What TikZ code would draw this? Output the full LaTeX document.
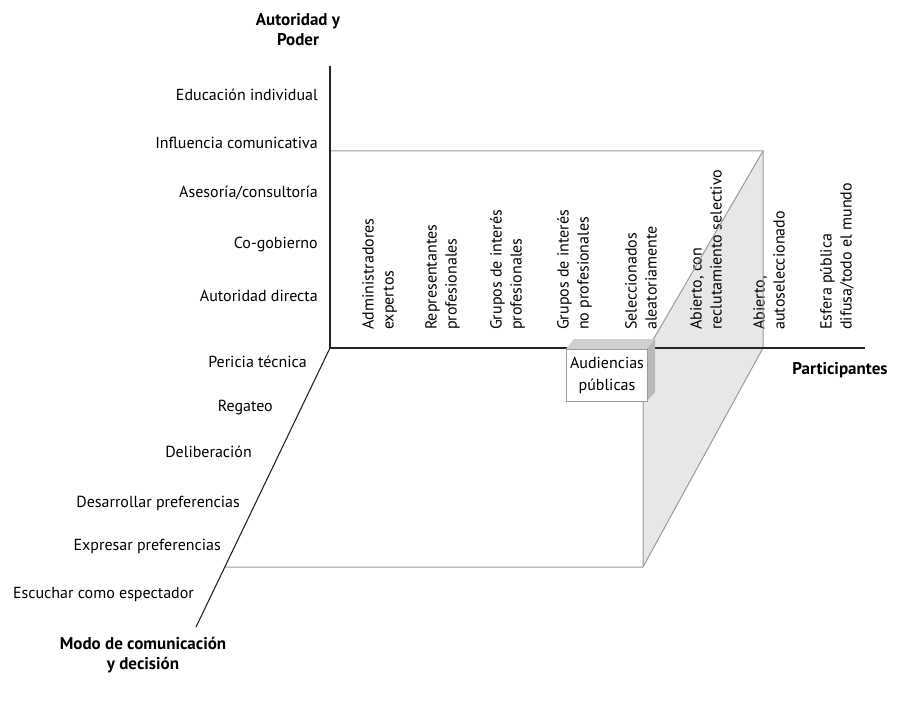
\documentclass[tikz,border=0pt]{standalone}
\usepackage{fontspec}
\setmainfont{PT Sans}
\usepackage{tikz}
\usetikzlibrary{calc,positioning}
\definecolor{edgegray}{RGB}{155,155,155}
\definecolor{planegray}{RGB}{230,231,233}
\definecolor{topgray}{RGB}{208,208,208}
\definecolor{sidegray}{RGB}{185,185,185}

\begin{document}
\begin{tikzpicture}[
  x=1pt, y=-1pt,
  font=\fontsize{16}{20}\selectfont,
  axis/.style={draw=black!85, line width=1.1pt},
  edge/.style={draw=edgegray, line width=1pt},
  lbl/.style={anchor=east, inner sep=0pt},
  col/.style={rotate=90, anchor=north west, align=left, inner sep=0pt},
  axlabel/.style={align=center, font=\fontsize{17}{20}\selectfont\bfseries, inner sep=0pt}
]
\useasboundingbox (0,0) rectangle (901,722);

% corners of the frame
\coordinate (origin) at (330,348);
\coordinate (ytop) at (330,66);
\coordinate (xend) at (865,348);
\coordinate (zend) at (196,627);
\coordinate (backTL) at (330,151);
\coordinate (backTR) at (763,151);
\coordinate (backBR) at (763,348);
\coordinate (sideTL) at (643,357);
\coordinate (sideBL) at (643,567);
\coordinate (floorL) at (224,567);

% shaded side plane
\fill[planegray] (backTR) -- (backBR) -- (sideBL) -- (sideTL) -- cycle;

% column labels
\node[col] (admin) at (362,330) {Administradores\\expertos};
\node[col] (repres) at (425,330) {Representantes\\profesionales};
\node[col] (gprof) at (490,330) {Grupos de interés\\profesionales};
\node[col] (gnoprof) at (557,330) {Grupos de interés\\no profesionales};
\node[col] (selec) at (625,330) {Seleccionados\\aleatoriamente};
\node[col] (abiertocon) at (690,330) {Abierto, con\\reclutamiento selectivo};
\node[col] (abiertoauto) at (753,330) {Abierto,\\autoseleccionado};
\node[col] (esfera) at (820,330) {Esfera pública\\difusa/todo el mundo};

% frame edges
\draw[edge] (backTL) -- (backTR) -- (backBR) -- (sideBL) -- (floorL);
\draw[edge] (backTR) -- (sideTL) -- (sideBL);

% axes
\draw[axis] (ytop) -- (origin) -- (xend);
\draw[axis] (origin) -- (zend);

% audiencias publicas box
\coordinate (boxTL) at (566,349);
\coordinate (boxTR) at (647,349);
\coordinate (boxBR) at (647,401);
\fill[topgray] (boxTL) -- (boxTR) -- ++(8,-10) -- ($(boxTL)+(8,-10)$) -- cycle;
\fill[sidegray] (boxTR) -- (boxBR) -- ++(8,-9) -- ($(boxTR)+(8,-10)$) -- cycle;
\node[draw=edgegray, fill=white, line width=1pt, inner sep=0pt, minimum width=81pt, minimum height=52pt, anchor=north west, align=center, font=\fontsize{16}{22}\selectfont] (audiencias) at (boxTL) {Audiencias\\públicas};

% vertical axis labels
\node[lbl] (educ) at (318,95) {Educación individual};
\node[lbl] (influ) at (318,143) {Influencia comunicativa};
\node[lbl] (aseso) at (318,193) {Asesoría/consultoría};
\node[lbl] (cogob) at (318,244) {Co-gobierno};
\node[lbl] (autor) at (318,296) {Autoridad directa};

% depth axis labels
\node[lbl] (pericia) at (307,362) {Pericia técnica};
\node[lbl] (regateo) at (273,408) {Regateo};
\node[lbl] (delib) at (252,452) {Deliberación};
\node[lbl] (desarr) at (240,503) {Desarrollar preferencias};
\node[lbl] (expres) at (221,546) {Expresar preferencias};
\node[lbl] (escuch) at (194,594) {Escuchar como espectador};

% axis titles
\node[axlabel] (autpoder) at (298,30) {Autoridad y\\Poder};
\node[axlabel] (partic) at (840,370) {Participantes};
\node[axlabel] (modo) at (143,655) {Modo de comunicación\\y decisión};
\end{tikzpicture}
\end{document}
